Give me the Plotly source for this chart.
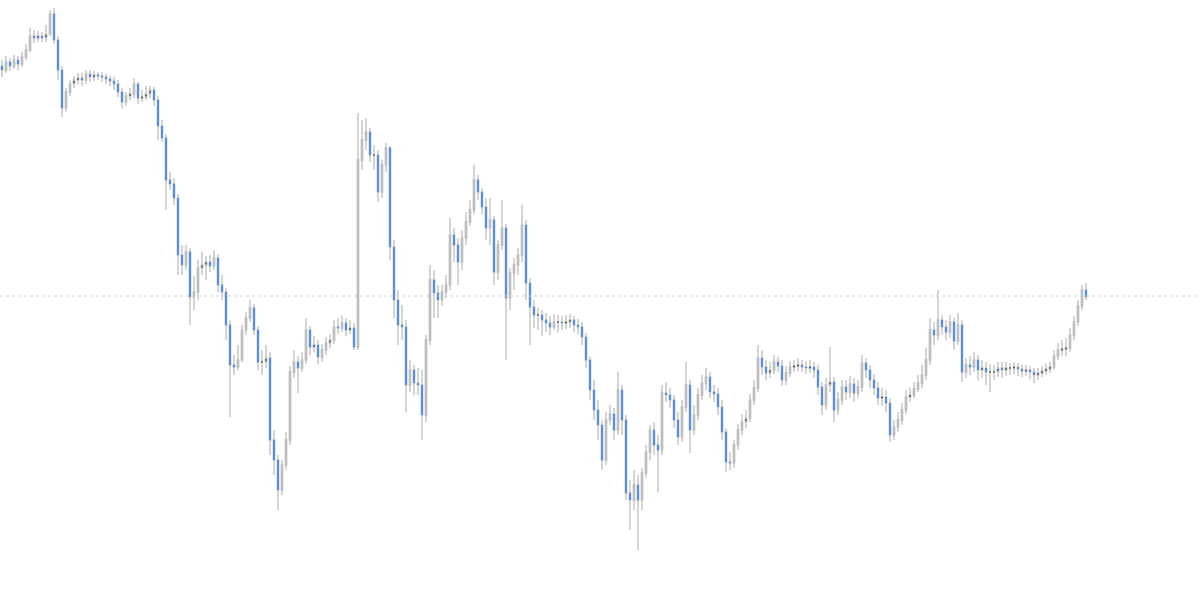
import plotly.graph_objects as go

# Candle OHLC values (arbitrary price units), one candle per step
opens = [534,530,538,534,540,536,543,550,564,562,
         564,562,566,586,560,530,492,508,516,520,
         522,520,526,523,525,524,523,521,519,516,
         508,498,504,506,516,502,503,506,510,500,
         474,462,420,416,402,345,335,348,303,308,
         332,335,338,334,342,315,308,275,235,233,
         240,270,282,292,270,238,238,242,160,140,
         110,135,160,228,238,232,240,270,253,255,
         243,250,257,260,273,272,277,270,272,253,
         440,460,468,445,445,408,435,452,353,300,
         275,273,215,230,217,215,185,260,320,307,
         300,308,315,365,355,338,362,378,390,420,
         408,393,372,380,328,355,372,302,327,335,
         345,375,317,293,285,285,280,277,273,278,
         278,277,278,280,275,273,263,240,210,190,
         175,140,180,186,170,210,180,107,100,115,
         100,127,148,170,155,150,207,205,200,180,
         163,193,215,170,185,205,217,223,208,206,
         193,168,138,137,155,170,178,182,200,212,
         242,233,227,230,238,234,220,227,233,234,
         235,233,232,233,230,213,195,215,218,190,
         200,213,208,216,207,213,237,230,220,212,
         202,203,197,165,173,180,190,203,205,211,
         217,225,240,270,265,280,273,268,278,259,
         275,228,235,233,240,230,232,228,228,228,
         232,230,232,232,233,231,229,230,228,225,
         227,229,231,233,244,250,251,252,265,278,
         294,310]

highs = [540,544,542,545,544,548,556,572,570,569,
         568,575,590,592,564,534,512,520,524,527,
         527,530,530,529,528,528,526,524,523,520,
         512,508,512,522,518,510,514,514,513,504,
         480,466,428,422,406,355,355,352,324,340,
         348,344,345,350,346,325,312,280,245,255,
         275,288,300,296,274,250,255,248,170,145,
         140,168,234,250,244,248,282,274,264,260,
         256,263,266,280,282,284,282,280,277,487,
         480,482,472,455,450,440,457,454,360,310,
         295,280,240,235,232,230,265,335,330,315,
         315,325,382,372,362,370,388,400,435,425,
         412,402,402,384,360,400,376,332,342,352,
         395,380,322,300,292,290,287,284,286,285,
         284,285,286,284,281,278,267,244,220,200,
         180,188,195,192,228,215,185,120,130,125,
         132,155,175,178,165,215,218,212,205,188,
         200,238,220,195,212,225,232,228,215,212,
         200,172,148,160,176,186,190,206,220,255,
         250,240,238,245,243,240,234,239,240,242,
         240,239,240,238,235,218,222,253,223,208,
         220,220,224,222,220,245,242,235,226,218,
         212,210,202,180,188,197,210,212,218,225,
         235,252,282,278,310,285,280,285,282,287,
         280,242,244,248,245,240,238,236,235,238,
         238,238,237,238,237,235,235,234,232,232,
         234,236,238,250,257,260,262,272,284,300,
         315,317]

lows = [523,527,529,531,530,533,540,548,557,558,
        558,558,564,556,520,483,488,504,512,516,
        514,516,518,519,520,518,516,514,510,503,
        492,494,500,502,496,498,500,502,494,460,
        458,390,410,395,325,325,330,275,290,300,
        325,320,328,330,308,300,260,183,225,230,
        238,265,278,265,230,225,232,145,125,90,
        105,130,155,222,207,228,236,245,248,236,
        238,245,252,256,266,268,264,266,250,250,
        430,450,438,430,398,402,428,340,282,255,
        260,188,208,205,205,160,178,255,282,282,
        294,302,310,338,315,330,355,374,386,400,
        386,360,355,315,320,350,240,290,310,325,
        338,300,255,272,270,264,268,265,270,268,
        270,271,272,268,266,255,232,200,180,160,
        130,135,175,160,165,165,100,70,90,50,
        90,122,140,145,108,145,198,192,172,155,
        158,188,147,165,180,200,210,202,198,185,
        160,128,130,132,150,165,172,178,195,208,
        225,220,222,226,228,214,215,223,228,229,
        228,226,227,222,205,185,190,208,178,185,
        195,200,202,198,202,208,222,212,205,195,
        194,188,158,160,168,175,186,198,202,208,
        212,220,235,255,260,265,260,262,250,255,
        218,222,225,228,220,222,215,208,220,223,
        222,224,225,226,224,223,224,221,217,220,
        223,225,227,230,240,244,244,248,260,274,
        290,300]

closes = [530,538,534,540,536,543,550,564,562,564,
          562,566,586,560,530,492,508,516,520,522,
          520,526,523,525,524,523,521,519,516,508,
          498,504,506,516,502,503,506,510,500,474,
          462,420,416,402,345,335,348,303,308,332,
          335,338,334,342,315,308,275,235,233,240,
          270,282,292,270,238,238,242,160,140,110,
          135,160,228,238,232,240,270,253,255,243,
          250,257,260,273,272,277,270,272,253,440,
          460,468,445,445,408,435,452,353,300,275,
          273,215,230,217,215,185,260,320,307,300,
          308,315,365,355,338,362,378,390,420,408,
          393,372,380,328,355,372,302,327,335,345,
          375,317,293,285,285,280,277,273,278,278,
          277,278,280,275,273,263,240,210,190,175,
          140,180,186,170,210,180,107,100,115,100,
          127,148,170,155,150,207,205,200,180,163,
          193,215,170,185,205,217,223,208,206,193,
          168,138,137,155,170,178,182,200,212,242,
          233,227,230,238,234,220,227,233,234,235,
          233,232,233,230,213,195,215,218,190,200,
          213,208,216,207,213,237,230,220,212,202,
          203,197,165,173,180,190,203,205,211,217,
          225,240,270,265,280,273,268,278,259,275,
          228,235,233,240,230,232,228,228,228,232,
          230,232,232,233,231,229,230,228,225,227,
          229,231,233,244,250,251,252,265,278,294,
          310,303]

n = len(closes)
idx = list(range(n))

UP_DOT = "#2a2a2a"
DOWN = "#2b83f6"
GRAY = "#bdbdbd"

# down bodies drawn blue; near-flat up bodies get a small dark tick
up_x, up_y, dn_x, dn_y = [], [], [], []
for i, (op, cl) in enumerate(zip(opens, closes)):
    if cl >= op:
        if cl - op <= 4:
            mid = (op + cl) / 2
            up_x += [i, i, None]
            up_y += [mid - 0.8, mid + 0.8, None]
    else:
        dn_x += [i, i, None]
        dn_y += [op, cl, None]

fig = go.Figure()

# gray candles (full OHLC)
fig.add_trace(go.Candlestick(
    x=idx, open=opens, high=highs, low=lows, close=closes,
    increasing=dict(line=dict(color=GRAY, width=1.3), fillcolor=GRAY),
    decreasing=dict(line=dict(color=GRAY, width=1.3), fillcolor=GRAY),
    whiskerwidth=0, hoverinfo="skip", showlegend=False,
))

fig.add_trace(go.Scatter(x=up_x, y=up_y, mode="lines",
                         line=dict(color=UP_DOT, width=1.3),
                         hoverinfo="skip", showlegend=False))
fig.add_trace(go.Scatter(x=dn_x, y=dn_y, mode="lines",
                         line=dict(color=DOWN, width=1.5),
                         hoverinfo="skip", showlegend=False))

# dotted last-price line
fig.add_shape(type="line", xref="paper", x0=0, x1=1, yref="y",
              y0=closes[-1] + 1, y1=closes[-1] + 1,
              line=dict(color="#d2d2d2", width=1, dash="dot"))

fig.update_layout(
    width=1200, height=589,
    margin=dict(l=0, r=0, t=0, b=0),
    paper_bgcolor="white", plot_bgcolor="white",
    boxgap=0.5,
    xaxis=dict(range=[-0.5, 299.5], visible=False, rangeslider=dict(visible=False),
               showgrid=False, zeroline=False),
    yaxis=dict(range=[11, 600], visible=False, showgrid=False, zeroline=False),
)

fig.write_html("out.html", config={"displayModeBar": False},
               post_script="document.body.style.margin='0';")
